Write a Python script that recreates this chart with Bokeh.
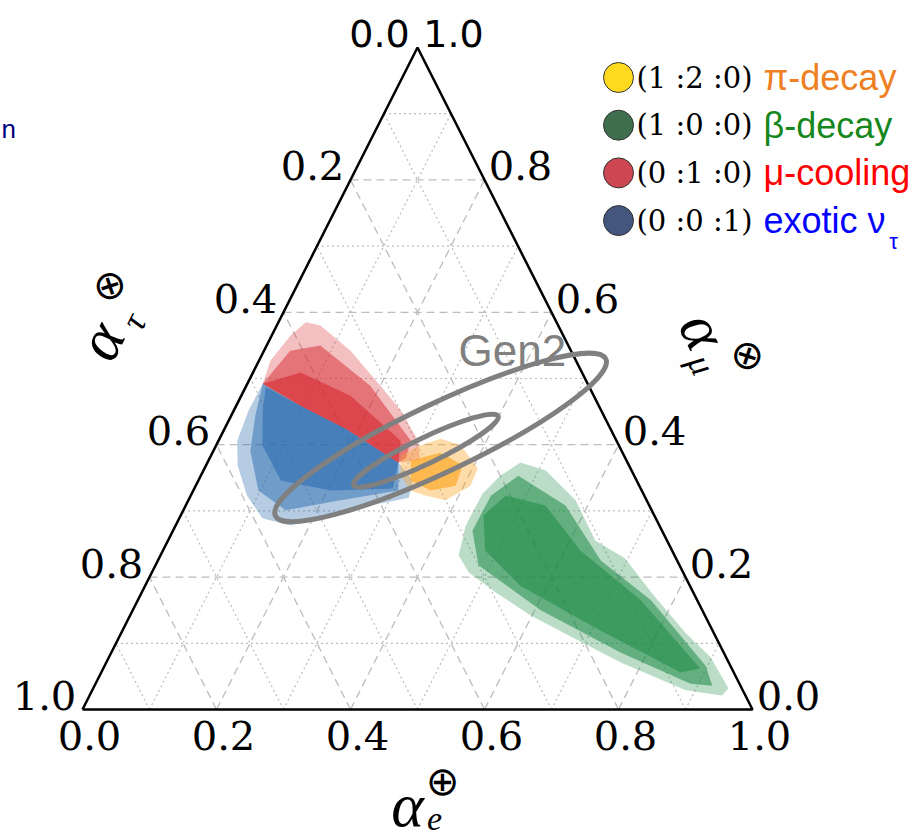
import math
import numpy as np
from bokeh.plotting import figure
from bokeh.models import Range1d
from bokeh.core.properties import value
from bokeh.embed import file_html
from bokeh.resources import INLINE

# ---------------- data ----------------
TICKS = [0.0, 0.2, 0.4, 0.6, 0.8, 1.0]
TICK_LABELS = ["0.0", "0.2", "0.4", "0.6", "0.8", "1.0"]
GRID_MAJOR = [0.2, 0.4, 0.6, 0.8]
GRID_MINOR = [0.1, 0.3, 0.5, 0.7, 0.9]

# density regions, outlines as (alpha_e, alpha_mu); alpha_tau = 1 - e - mu
GREEN_OUTER_E = [0.467, 0.511, 0.578, 0.638, 0.696, 0.763, 0.843, 0.898, 0.948, 0.944,
                 0.886, 0.768, 0.669, 0.598, 0.532, 0.473, 0.445, 0.433, 0.434, 0.447]
GREEN_OUTER_MU = [0.373, 0.361, 0.316, 0.255, 0.228, 0.175, 0.115, 0.079, 0.032, 0.021,
                  0.029, 0.071, 0.112, 0.142, 0.175, 0.207, 0.233, 0.278, 0.326, 0.353]
GREEN_MID_E = [0.474, 0.567, 0.661, 0.766, 0.897, 0.922, 0.888, 0.760, 0.609, 0.482, 0.447, 0.448]
GREEN_MID_MU = [0.353, 0.308, 0.225, 0.165, 0.066, 0.036, 0.039, 0.086, 0.150, 0.218, 0.270, 0.323]
GREEN_CORE_E = [0.470, 0.537, 0.623, 0.751, 0.891, 0.865, 0.714, 0.560, 0.481, 0.452]
GREEN_CORE_MU = [0.323, 0.308, 0.240, 0.165, 0.062, 0.056, 0.119, 0.187, 0.240, 0.293]

BLUE_OUTER_E = [0.023, 0.096, 0.181, 0.285, 0.320, 0.327, 0.276, 0.223, 0.171, 0.124, 0.084, 0.047, 0.028, 0.022]
BLUE_OUTER_MU = [0.492, 0.459, 0.424, 0.373, 0.346, 0.320, 0.308, 0.293, 0.278, 0.289, 0.323, 0.369, 0.406, 0.452]
BLUE_MID_E = [0.023, 0.096, 0.181, 0.285, 0.306, 0.227, 0.153, 0.097, 0.055, 0.036]
BLUE_MID_MU = [0.492, 0.459, 0.424, 0.373, 0.331, 0.316, 0.301, 0.331, 0.391, 0.444]
BLUE_CORE_E = [0.030, 0.096, 0.181, 0.285, 0.296, 0.205, 0.123, 0.069, 0.043]
BLUE_CORE_MU = [0.487, 0.459, 0.424, 0.373, 0.334, 0.331, 0.346, 0.399, 0.452]

RED_OUTER_E = [0.023, 0.017, 0.028, 0.041, 0.065, 0.129, 0.200, 0.249, 0.298, 0.316, 0.285, 0.181, 0.096]
RED_OUTER_MU = [0.492, 0.527, 0.565, 0.585, 0.580, 0.542, 0.489, 0.452, 0.406, 0.376, 0.373, 0.424, 0.459]
RED_MID_E = [0.023, 0.039, 0.080, 0.185, 0.287, 0.293, 0.285, 0.181, 0.096]
RED_MID_MU = [0.492, 0.542, 0.550, 0.489, 0.406, 0.379, 0.373, 0.424, 0.459]
RED_CORE_E = [0.023, 0.071, 0.163, 0.272, 0.285, 0.181, 0.096]
RED_CORE_MU = [0.492, 0.509, 0.474, 0.406, 0.373, 0.424, 0.459]

ORANGE_OUTER_E = [0.283, 0.305, 0.330, 0.365, 0.408, 0.410, 0.384, 0.351, 0.324, 0.298]
ORANGE_OUTER_MU = [0.384, 0.399, 0.409, 0.399, 0.364, 0.338, 0.316, 0.323, 0.331, 0.353]
ORANGE_CORE_E = [0.302, 0.340, 0.383, 0.388, 0.354, 0.317]
ORANGE_CORE_MU = [0.376, 0.388, 0.369, 0.338, 0.331, 0.346]

# Gen2 contours (ellipses): centre (alpha_e, alpha_mu), full axes, tilt
GEN2_CENTER_E = [0.329, 0.317]
GEN2_CENTER_MU = [0.411, 0.391]
GEN2_WIDTH = [0.546, 0.239]
GEN2_HEIGHT = [0.103, 0.039]
GEN2_ANGLE_DEG = [25.4, 25.6]

LEGEND_RATIOS = ["(1 :2 :0)", "(1 :0 :0)", "(0 :1 :0)", "(0 :0 :1)"]
LEGEND_NAMES = ["π-decay", "β-decay", "μ-cooling", "exotic ν"]
LEGEND_DOT_COLORS = ["#FFD91F", "#3F6E4E", "#CD4753", "#45567E"]
LEGEND_TEXT_COLORS = ["#EE7F22", "#16871C", "#FF0000", "#0000FF"]

# ---------------- layout ----------------
W, H = 916, 838
X0, Y0, SX, SY = 82.0, 709.0, 670.0, 662.0   # pixel position of (0,0) and pixels per unit


def tern(e, mu):
    e = np.asarray(e, dtype=float)
    mu = np.asarray(mu, dtype=float)
    return list(e + mu / 2.0), list(mu)


def P(xp, yp):
    return (xp - X0) / SX, (Y0 - yp) / SY


p = figure(width=W, height=H, output_backend="svg", toolbar_location=None,
           x_range=Range1d(-X0 / SX, (W - X0) / SX), y_range=Range1d((Y0 - H) / SY, Y0 / SY),
           x_axis_location=None, y_axis_location=None, min_border=0)
p.grid.visible = False
p.outline_line_color = None
p.background_fill_color = "white"
p.border_fill_color = "white"


def grid_lines(vals):
    xs, ys = [], []
    for v in vals:
        for (e1, m1, e2, m2) in [(0, v, 1 - v, v), (v, 0, v, 1 - v), (1 - v, 0, 0, 1 - v)]:
            x, y = tern([e1, e2], [m1, m2])
            xs.append(x)
            ys.append(y)
    return xs, ys


gx, gy = grid_lines(GRID_MINOR)
p.multi_line(gx, gy, line_color="#bdbdbd", line_width=1.2, line_dash="2 3")
gx, gy = grid_lines(GRID_MAJOR)
p.multi_line(gx, gy, line_color="#bdbdbd", line_width=1.3, line_dash="8 5")

# density regions
regions = [
    ("#2b6cb0", [(BLUE_OUTER_E, BLUE_OUTER_MU, 0.35), (BLUE_MID_E, BLUE_MID_MU, 0.5), (BLUE_CORE_E, BLUE_CORE_MU, 0.6)]),
    ("#d62a30", [(RED_OUTER_E, RED_OUTER_MU, 0.3), (RED_MID_E, RED_MID_MU, 0.5), (RED_CORE_E, RED_CORE_MU, 0.6)]),
    ("#fca82a", [(ORANGE_OUTER_E, ORANGE_OUTER_MU, 0.4), (ORANGE_CORE_E, ORANGE_CORE_MU, 0.7)]),
    ("#1d8a45", [(GREEN_OUTER_E, GREEN_OUTER_MU, 0.3), (GREEN_MID_E, GREEN_MID_MU, 0.55), (GREEN_CORE_E, GREEN_CORE_MU, 0.55)]),
]
for color, levels in regions:
    for e_list, mu_list, a in levels:
        x, y = tern(e_list, mu_list)
        p.patch(x, y, fill_color=color, fill_alpha=a, line_color=None)

# triangle boundary
tx, ty = tern([0, 1, 0, 0], [0, 0, 1, 0])
p.line(tx, ty, line_color="black", line_width=2.5)

# Gen2 ellipses
cx, cy = tern(GEN2_CENTER_E, GEN2_CENTER_MU)
p.ellipse(x=cx, y=cy, width=GEN2_WIDTH, height=GEN2_HEIGHT,
          angle=[math.radians(a) for a in GEN2_ANGLE_DEG],
          fill_color=None, line_color="#808080", line_width=5)
gxp, gyp = P(458, 350)
p.text(x=[gxp], y=[gyp], text=["Gen2"], text_font=value("Liberation Sans"), text_font_size="44px",
       text_color="#808080", text_align="left", text_baseline="alphabetic")


# tick labels
def add_ticks(points, dx, dy, fonts):
    for i, (x, y) in enumerate(points):
        p.text(x=[x + dx / SX], y=[y - dy / SY], text=[TICK_LABELS[i]], text_font=value(fonts[i]),
               text_font_size="40px" if fonts[i] == "DejaVu Serif" else "38px",
               text_color="black", text_align="center", text_baseline="middle")


bx, by = tern(TICKS, [0] * 6)
add_ticks(list(zip(bx, by)), 7, 26, ["DejaVu Serif"] * 6)
lx, ly = tern([0] * 6, [1 - t for t in TICKS])
add_ticks(list(zip(lx, ly)), -38, -14, ["DejaVu Sans"] + ["DejaVu Serif"] * 5)
rx, ry = tern([1 - t for t in TICKS], TICKS)
add_ticks(list(zip(rx, ry)), 36, -14, ["DejaVu Serif"] * 5 + ["DejaVu Sans"])

# axis titles
ang = math.atan2(SY, SX / 2)


def put(xp, yp, txt, size, angle=0.0, italic=True, font="Liberation Serif"):
    x, y = P(xp, yp)
    p.text(x=[x], y=[y], text=[txt], text_font=value(font), text_font_size=size,
           text_font_style="italic" if italic else "normal", angle=angle,
           text_color="black", text_align="center", text_baseline="middle")


put(100, 340, "α", "62px", ang)
put(133, 321, "τ", "36px", ang)
put(108, 285, "⊗", "40px", ang, italic=False, font="DejaVu Sans")

put(703, 330, "α", "62px", -ang)
put(701, 364, "μ", "36px", -ang)
put(748, 355, "⊗", "40px", -ang, italic=False, font="DejaVu Sans")

put(407, 804, "α", "62px")
put(434, 818, "e", "34px")
put(442, 780, "⊕", "40px", italic=False, font="DejaVu Sans")

# legend
for i in range(4):
    yc = 77 + 47.7 * i
    dx_, dy_ = P(618, yc)
    p.scatter(x=[dx_], y=[dy_], size=30, marker="circle", fill_color=LEGEND_DOT_COLORS[i],
              line_color="#333333", line_width=1)
    tx_, ty_ = P(636, yc)
    p.text(x=[tx_], y=[ty_], text=[LEGEND_RATIOS[i]], text_font=value("DejaVu Serif"),
           text_font_size="29px", text_color="black", text_align="left", text_baseline="middle")
    nx_, ny_ = P(763, yc)
    p.text(x=[nx_], y=[ny_], text=[LEGEND_NAMES[i]], text_font=value("Liberation Sans"),
           text_font_size="36px", text_color=LEGEND_TEXT_COLORS[i], text_align="left",
           text_baseline="middle")
sx_, sy_ = P(893, 241)
p.text(x=[sx_], y=[sy_], text=["τ"], text_font=value("Liberation Sans"), text_font_size="22px",
       text_color=LEGEND_TEXT_COLORS[3], text_align="center", text_baseline="middle")

# letter at left edge (from a neighbouring panel)
nx_, ny_ = P(1, 128)
p.text(x=[nx_], y=[ny_], text=["n"], text_font=value("Liberation Sans"), text_font_size="26px",
       text_color="#000080", text_align="left", text_baseline="alphabetic")

open("out.html", "w").write(file_html(p, INLINE))
